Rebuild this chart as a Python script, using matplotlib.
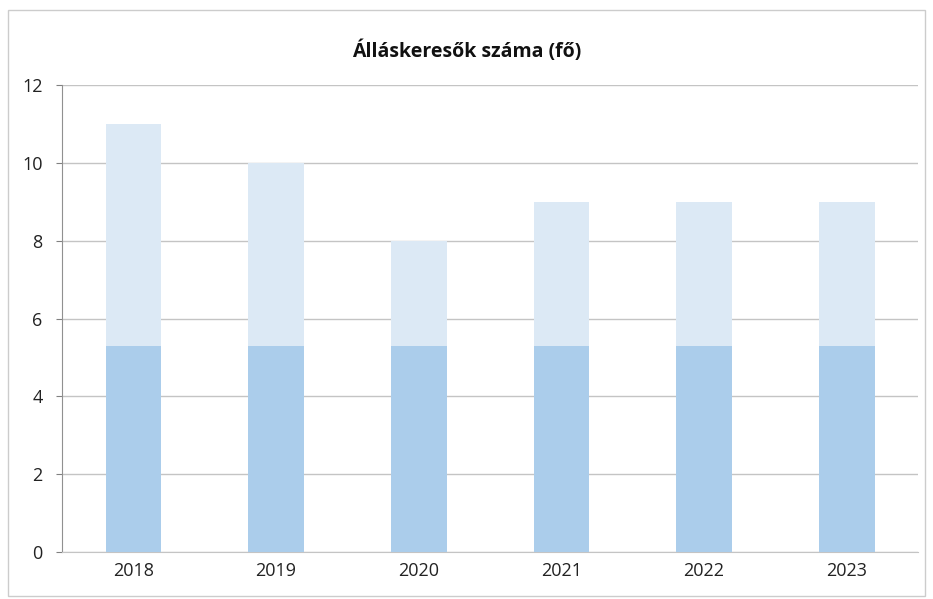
import matplotlib.pyplot as plt
import numpy as np

# data
years = ["2018", "2019", "2020", "2021", "2022", "2023"]
job_seekers = [11, 10, 8, 9, 9, 9]

# the scanned fill is darker up to about this level, paler above it
DARK_LEVEL = 5.3

plt.rcParams['font.family'] = ['Open Sans', 'DejaVu Sans']

fig = plt.figure(figsize=(9.33, 5.99), dpi=100)
ax = fig.add_axes([0.0665, 0.0785, 0.9175, 0.7795])

x = np.arange(len(years))
vals = np.array(job_seekers, dtype=float)

ax.bar(x, vals, 0.39, color='#dce9f5', zorder=2)
ax.bar(x, np.minimum(vals, DARK_LEVEL), 0.39, color='#abcdeb', zorder=3)

ax.set_xlim(-0.5, len(years) - 0.5)
ax.set_ylim(0, 12)
ax.set_yticks(np.arange(0, 13, 2))
ax.set_xticks(x)
ax.set_xticklabels(years)

ax.tick_params(axis='y', labelsize=13, length=4, color='#808080', pad=10, labelcolor='#222222')
ax.tick_params(axis='x', labelsize=13, length=0, pad=7, labelcolor='#222222')

# grid lines
ax.yaxis.grid(True, color='#c4c4c4', linewidth=1)
ax.set_axisbelow(True)

for s in ['top', 'right']:
    ax.spines[s].set_visible(False)
ax.spines['bottom'].set_color('#c4c4c4')
ax.spines['left'].set_color('#909090')

fig.text(0.5, 0.915, "Álláskeresők száma (fő)", ha='center', va='center',
         fontsize=14, fontweight='bold', color='#111111')

# chart border
fig.patches.append(plt.Rectangle((0.009, 0.005), 0.982, 0.978, transform=fig.transFigure,
                                 fill=False, edgecolor='#cccccc', linewidth=1))

plt.savefig("out.png", dpi=100)
